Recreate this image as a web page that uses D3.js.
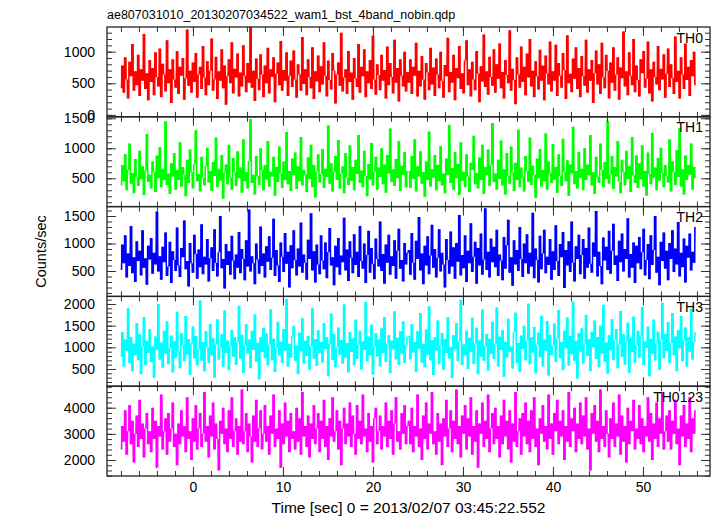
<!DOCTYPE html>
<html>
<head>
<meta charset="utf-8">
<script src="https://cdn.jsdelivr.net/npm/d3@7/dist/d3.min.js"></script>
<style>
  html, body { margin: 0; padding: 0; background: #fff; }
  svg { display: block; }
  text { font-family: "Liberation Sans", Arial, Helvetica, sans-serif; fill: #000; }
</style>
</head>
<body>
<svg id="chart" width="717" height="516"></svg>
<script>
// ---------------- data ----------------
const title = "ae807031010_20130207034522_wam1_bst_4band_nobin.qdp";
const xLabel = "Time [sec] 0 = 2013/02/07 03:45:22.552";
const yLabel = "Counts/sec";
const timeStart = -8;      // first bin time [s]
const binWidth = 0.16;     // bin width [s]
const xMajorTicks = [0, 10, 20, 30, 40, 50];

const bandNames = ["TH0", "TH1", "TH2", "TH3", "TH0123"];
const bandColors = ["#ff0000", "#00ff00", "#0000ff", "#00ffff", "#ff00ff"];
const yDomains = [[-30, 1390], [28, 1525], [38, 1671], [103, 2175], [1388, 4822]];
const yMajorTicks = [[0, 500, 1000], [500, 1000, 1500], [500, 1000, 1500], [500, 1000, 1500, 2000], [2000, 3000, 4000]];
const yMinorStep = [100, 100, 100, 100, 200];

const th0 = [
  420, 780, 350, 910, 560, 260, 840, 610, 1120, 380, 690, 470, 950, 300, 720, 540, 1280, 410, 660, 230,
  870, 520, 740, 310, 990, 600, 450, 1050, 280, 810, 640, 370, 1180, 500, 720, 190, 880, 560, 430, 1010,
  330, 760, 620, 900, 240, 580, 1350, 460, 700, 350, 830, 520, 980, 270, 640, 760, 410, 1090, 590, 310,
  850, 470, 700, 1210, 380, 560, 920, 250, 690, 540, 1040, 420, 780, 160, 610, 880, 500, 1150, 340, 730,
  590, 970, 290, 670, 450, 1100, 620, 360, 820, 510, 1390, 430, 700, 220, 890, 570, 390, 960, 640, 280,
  780, 500, 1060, 340, 720, 600, 910, 200, 650, 830, 470, 1170, 380, 710, 540, 990, 300, 620, 860, 440,
  1020, 560, 270, 800, 640, 380, 1230, 490, 720, 310, 880, 600, 420, 1070, 250, 690, 530, 940, 360, 770,
  480, 1150, 620, 290, 860, 550, 400, 980, 700, 180, 640, 830, 460, 1300, 370, 590, 720, 330, 1010, 520,
  670, 240, 900, 580, 440, 1120, 350, 760, 610, 1040, 280, 690, 500, 870, 410, 1250, 560, 320, 800, 630,
  390, 950, 540, 710, 260, 1080, 470, 820, 600, 340, 1190, 510, 740, 210, 880, 620, 450, 1000, 370, 680,
  510, 880, 330, 760, 620, 1140, 290, 700, 450, 930, 560, 240, 820, 670, 390, 1060, 480, 750, 300, 890,
  640, 420, 1000, 540, 270, 790, 610, 1220, 360, 680, 510, 950, 230, 740, 580, 1090, 410, 660, 340, 860,
  1180, 470, 720, 290, 840, 560, 390, 1010, 650, 200, 770, 530, 1270, 440, 690, 320, 920, 600, 460, 1040,
  350, 800, 570, 1130, 420, 680, 260, 870, 630, 500, 1340, 380, 730, 550, 170, 910, 640, 430, 1080, 520,
  760, 310, 970, 590, 1200, 450, 700, 280, 850, 610, 400, 1030, 540, 780, 230, 940, 660, 480, 1160, 370,
  690, 540, 1110, 300, 820, 620, 430, 980, 710, 250, 1260, 500, 650, 360, 890, 570, 1070, 410, 740, 280,
  930, 610, 460, 1190, 350, 720, 540, 870, 190, 660, 1020, 480, 800, 330, 1140, 590, 420, 950, 700, 260,
  830, 510, 1070, 380, 640, 910, 240, 750, 580, 1320, 450, 690, 310, 990, 620, 470, 1200, 360, 780, 550,
  290, 880, 660, 1010, 430, 570, 1160, 340, 720, 210, 840, 600, 480, 1090, 390, 730, 560, 960, 270, 650,
  1050, 440, 800, 580, 330, 1240, 520, 700, 260, 910, 640, 410, 1130, 550, 760, 300, 870, 610, 1000, 470
];
const th1 = [
  380, 720, 450, 900, 300, 640, 1080, 410, 590, 250, 820, 520, 370, 960, 480, 700, 220, 630, 1240, 440,
  560, 330, 780, 610, 270, 880, 500, 1020, 350, 660, 470, 1450, 390, 580, 240, 750, 530, 920, 310, 640,
  470, 1100, 360, 690, 550, 200, 810, 420, 980, 600, 330, 740, 1300, 450, 570, 280, 860, 510, 380, 700,
  1010, 430, 620, 290, 770, 540, 1180, 350, 660, 460, 890, 160, 590, 730, 400, 1060, 520, 310, 840, 610,
  370, 950, 500, 680, 260, 1150, 450, 600, 330, 790, 1490, 420, 560, 230, 870, 540, 390, 1000, 640, 300,
  720, 480, 1120, 360, 610, 530, 860, 210, 690, 440, 1030, 580, 340, 780, 470, 1270, 400, 620, 290, 830,
  550, 930, 320, 700, 450, 1190, 380, 640, 560, 270, 850, 490, 1060, 350, 720, 180, 610, 900, 430, 570,
  990, 340, 660, 520, 1380, 410, 750, 280, 600, 870, 470, 1140, 330, 580, 700, 250, 920, 510, 390, 1050,
  460, 690, 300, 810, 570, 1220, 420, 630, 350, 960, 540, 200, 740, 480, 1090, 380, 610, 860, 310, 680,
  520, 1000, 400, 730, 260, 890, 580, 1330, 440, 650, 370, 820, 500, 1120, 290, 710, 560, 940, 350, 620,
  620, 340, 870, 490, 1150, 280, 700, 530, 950, 410, 600, 190, 780, 470, 1280, 360, 650, 510, 890, 300,
  720, 450, 1040, 380, 580, 250, 830, 560, 1390, 420, 670, 310, 940, 500, 740, 220, 1100, 460, 610, 350,
  900, 530, 270, 760, 640, 1210, 400, 590, 330, 850, 470, 1060, 240, 690, 550, 980, 370, 720, 1420, 440,
  580, 310, 810, 490, 1130, 380, 650, 230, 920, 540, 410, 1030, 600, 290, 760, 470, 1310, 350, 680, 520,
  280, 870, 620, 440, 1180, 390, 710, 560, 170, 830, 500, 990, 360, 640, 450, 1250, 310, 780, 590, 420,
  1070, 480, 690, 260, 900, 540, 370, 1160, 610, 450, 800, 210, 730, 580, 1360, 400, 620, 330, 940, 510,
  660, 300, 1000, 470, 730, 550, 1220, 380, 600, 240, 860, 520, 420, 1080, 640, 350, 770, 490, 1460, 410,
  560, 870, 320, 690, 530, 1120, 440, 250, 810, 600, 380, 960, 490, 700, 270, 1190, 550, 420, 880, 340,
  750, 480, 1050, 360, 620, 210, 930, 570, 400, 1260, 510, 680, 300, 840, 460, 1010, 590, 350, 720, 540,
  430, 1150, 280, 780, 610, 390, 970, 520, 1340, 360, 650, 230, 880, 470, 720, 560, 1080, 310, 690, 500
];
const th2 = [
  520, 980, 640, 1150, 380, 820, 590, 1320, 460, 750, 300, 1040, 680, 870, 420, 1240, 560, 730, 250, 960,
  710, 1100, 450, 830, 620, 1580, 490, 770, 340, 940, 660, 1200, 410, 580, 1030, 280, 860, 700, 500, 1290,
  600, 390, 920, 750, 1420, 530, 680, 220, 1010, 640, 470, 1160, 810, 360, 890, 570, 1350, 440, 760, 620,
  1080, 310, 730, 930, 500, 1260, 650, 400, 840, 1500, 550, 720, 180, 990, 610, 860, 430, 1140, 690, 350,
  800, 560, 1210, 460, 900, 720, 330, 1060, 580, 1620, 490, 770, 640, 260, 1000, 710, 450, 1310, 590, 820,
  380, 950, 670, 1130, 520, 740, 1450, 410, 880, 600, 300, 1020, 760, 480, 1190, 630, 850, 200, 970, 550,
  1240, 700, 420, 910, 580, 1380, 470, 800, 650, 340, 1070, 720, 1550, 510, 860, 290, 980, 620, 440, 1150,
  690, 530, 1020, 370, 840, 1280, 600, 750, 240, 960, 570, 1100, 430, 780, 660, 1470, 510, 890, 320, 1040,
  740, 460, 1170, 610, 850, 390, 1320, 680, 540, 1000, 280, 790, 1230, 470, 920, 630, 350, 1090, 720, 580,
  1400, 500, 810, 270, 980, 650, 1160, 430, 770, 590, 1060, 360, 870, 1270, 540, 700, 310, 1010, 620, 830,
  880, 430, 1190, 650, 340, 1050, 720, 1480, 510, 820, 260, 960, 600, 1130, 440, 780, 1340, 560, 900, 380,
  740, 1260, 490, 830, 620, 200, 1080, 700, 450, 1220, 580, 930, 360, 1010, 670, 1520, 420, 790, 550, 1150,
  300, 870, 640, 1370, 480, 760, 1030, 270, 920, 600, 1180, 430, 710, 1640, 520, 850, 380, 1090, 660, 940,
  570, 1250, 410, 800, 690, 330, 1120, 540, 970, 1430, 470, 750, 230, 1060, 620, 880, 500, 1300, 720, 390,
  1000, 640, 1170, 450, 830, 580, 1560, 370, 910, 700, 290, 1140, 530, 820, 1250, 460, 760, 610, 1080, 340,
  860, 520, 1330, 680, 410, 990, 750, 1210, 190, 880, 600, 1040, 480, 1400, 650, 310, 950, 720, 1160, 440,
  790, 1080, 360, 920, 560, 1290, 630, 470, 1020, 760, 1590, 400, 850, 590, 260, 1110, 690, 940, 520, 1230,
  450, 870, 1360, 610, 780, 320, 1050, 660, 1180, 490, 900, 720, 1460, 380, 810, 560, 1020, 280, 960, 640,
  1120, 530, 840, 1270, 420, 700, 990, 350, 1150, 610, 880, 1500, 470, 760, 240, 1030, 680, 1200, 540, 870,
  330, 1010, 720, 1240, 480, 910, 620, 1390, 400, 830, 570, 1090, 290, 960, 740, 1180, 510, 850, 650, 1300
];
const th3 = [
  780, 1350, 560, 1180, 920, 1900, 640, 1240, 450, 1080, 820, 1560, 700, 1300, 380, 1010, 1700, 590, 1150, 870,
  1420, 660, 1020, 300, 1250, 940, 2000, 720, 1110, 530, 1380, 850, 1600, 610, 980, 1270, 420, 1140, 760, 1820,
  900, 520, 1330, 1050, 680, 1720, 830, 1190, 360, 1090, 1480, 740, 1260, 580, 950, 2080, 690, 1120, 450, 1370,
  1000, 640, 1540, 810, 1210, 300, 1070, 1650, 720, 980, 1300, 550, 1850, 870, 1160, 470, 1020, 1400, 780, 1240,
  600, 1110, 1960, 730, 1290, 410, 1050, 1530, 860, 1180, 520, 1380, 940, 1760, 670, 1100, 260, 1230, 890, 1450,
  750, 1320, 580, 1060, 1880, 700, 1200, 430, 990, 1590, 810, 1130, 640, 1420, 920, 2120, 560, 1080, 760, 1270,
  1500, 690, 1040, 380, 1340, 910, 1670, 620, 1150, 800, 1260, 480, 1030, 1900, 740, 1190, 570, 1400, 870, 1120,
  650, 1560, 960, 1230, 330, 1080, 1780, 710, 1310, 540, 1000, 1460, 830, 1170, 620, 1990, 760, 1100, 420, 1350,
  890, 1210, 580, 1640, 730, 1060, 1380, 490, 1140, 940, 2050, 680, 1250, 820, 1520, 370, 1020, 1330, 790, 1180,
  560, 1440, 870, 1700, 660, 1090, 1280, 400, 1160, 950, 1830, 720, 1220, 590, 1370, 850, 1600, 640, 1060, 1240,
  1260, 720, 1530, 880, 1120, 430, 1370, 960, 1790, 650, 1080, 540, 1410, 830, 1950, 700, 1170, 360, 1240, 920,
  1620, 610, 1040, 1330, 480, 1190, 870, 1700, 740, 1010, 290, 1280, 950, 1560, 680, 1140, 2100, 590, 1070, 810,
  1390, 500, 1220, 900, 1680, 620, 1090, 1450, 380, 1160, 780, 1870, 690, 1030, 1310, 460, 1200, 850, 1590, 730,
  1080, 1920, 560, 1250, 940, 1400, 320, 1130, 760, 1660, 890, 1020, 510, 1350, 1800, 640, 1100, 430, 1270, 960,
  1500, 700, 1150, 2010, 610, 1230, 880, 1470, 400, 1060, 1340, 770, 1730, 560, 1180, 920, 1610, 350, 1290, 820,
  1040, 1550, 660, 1210, 1860, 750, 1120, 470, 1390, 980, 1690, 580, 1260, 840, 2060, 690, 1150, 280, 1330, 900,
  1440, 620, 1070, 1750, 800, 1190, 450, 1360, 1000, 1620, 730, 1240, 540, 1500, 860, 1980, 670, 1110, 390, 1280,
  930, 1650, 710, 1170, 1420, 520, 1060, 1840, 780, 1300, 600, 1130, 1570, 410, 1220, 890, 1710, 640, 1050, 1380,
  760, 1270, 1930, 580, 1140, 990, 1480, 330, 1200, 860, 1640, 700, 1090, 1360, 480, 1180, 2030, 750, 1310, 920,
  1580, 640, 1100, 1790, 820, 1250, 450, 1400, 970, 1720, 680, 1160, 1460, 560, 1230, 900, 1890, 720, 1120, 1350
];
const th0123 = [
  2400, 3300, 2700, 3900, 2200, 3100, 4100, 2600, 3500, 1900, 3000, 3700, 2500, 4300, 2800, 3400, 2100, 3200, 3800, 2600,
  3100, 2300, 4000, 2800, 3500, 1700, 3300, 2900, 4500, 2400, 3100, 3600, 2200, 3800, 2700, 3200, 4200, 2500, 3000, 1800,
  3400, 2600, 3900, 2900, 3300, 2300, 4400, 2800, 3100, 2000, 3600, 2700, 4100, 2400, 3200, 3800, 2500, 3000, 4600, 2700,
  3300, 2100, 3700, 2900, 4200, 2400, 3400, 2800, 1600, 3500, 3000, 4000, 2600, 3200, 2300, 3900, 2800, 4400, 2500, 3100,
  3600, 2200, 3300, 2700, 4700, 2600, 3100, 3800, 2300, 3400, 2900, 1900, 3700, 2700, 4300, 2500, 3200, 3900, 2400, 3000,
  4100, 2700, 3300, 2200, 3700, 3000, 4500, 2500, 3200, 2800, 3900, 1700, 3400, 2600, 4200, 2900, 3500, 2300, 3800, 2800,
  3100, 2400, 4000, 2700, 3600, 2200, 4600, 2900, 3300, 2500, 3700, 2100, 3400, 2800, 4100, 2600, 3200, 3800, 2300, 3500,
  2800, 4300, 2500, 3300, 2000, 3600, 2900, 4400, 2700, 3100, 3900, 2400, 3500, 1800, 3200, 4000, 2600, 3400, 2900, 4200,
  2500, 3700, 3000, 2200, 4100, 2800, 3500, 2600, 4500, 2900, 3200, 2300, 3800, 2700, 3300, 1900, 3600, 4000, 2600, 3100,
  3700, 2400, 3300, 2900, 4200, 2500, 3500, 2800, 3900, 2200, 3400, 4400, 2700, 3100, 2400, 3800, 3000, 4100, 2600, 3300,
  3500, 2600, 4000, 2300, 3300, 2900, 4500, 2500, 3200, 2000, 3700, 2800, 4200, 2400, 3400, 3000, 4600, 2600, 3100, 2200,
  3800, 2700, 3400, 1800, 3600, 2900, 4300, 2500, 3200, 3900, 2300, 3500, 2800, 4700, 2600, 3300, 2100, 3700, 3000, 4100,
  2400, 3600, 2900, 4400, 2200, 3300, 2700, 3900, 1700, 3400, 3000, 4200, 2500, 3500, 2800, 4500, 2300, 3200, 3800, 2600,
  4000, 2800, 3300, 2100, 3700, 2600, 4300, 2900, 3500, 2400, 3900, 1900, 3400, 2700, 4600, 2500, 3100, 3600, 2200, 3800,
  2900, 4200, 2600, 3500, 2300, 3900, 2800, 4400, 2500, 3200, 1800, 3600, 3000, 4100, 2700, 3300, 2400, 4500, 2800, 3400,
  2200, 3800, 3100, 4300, 2600, 3500, 2900, 3900, 2000, 3300, 2700, 4600, 2500, 3600, 3100, 4000, 2300, 3400, 2800, 4200,
  2600, 3700, 2900, 4400, 2400, 3200, 1600, 3800, 3000, 4100, 2700, 3500, 2300, 4700, 2800, 3300, 2500, 3900, 3000, 2100,
  3600, 2800, 4200, 2500, 3400, 2900, 4500, 2200, 3700, 2700, 3300, 1900, 4000, 2600, 3500, 3100, 4300, 2400, 3200, 2800,
  4100, 2600, 3600, 2300, 3300, 2900, 4400, 2700, 3800, 2000, 3400, 2800, 4200, 2500, 3600, 3000, 4600, 2400, 3100, 3700,
  2700, 3900, 2400, 3500, 3000, 4300, 2600, 3200, 1800, 3700, 2900, 4100, 2500, 3400, 2800, 4400, 2300, 3600, 3000, 3900
];
const bandValues = [th0, th1, th2, th3, th0123];

// ---------------- layout ----------------
const svg = d3.select("#chart");
const plotL = 107, plotR = 710, plotT = 27, plotB = 476;
const nPanels = bandNames.length;
const panelH = (plotB - plotT) / nPanels;
const frameColor = "#222";

const x = d3.scaleLinear().domain([-9.55, 57.45]).range([plotL, plotR]);
const xMinorTicks = d3.range(-8, 57, 2);

svg.append("defs").selectAll("clipPath")
  .data(bandNames).join("clipPath")
  .attr("id", (d, i) => "clip" + i)
  .append("rect")
  .attr("x", plotL).attr("width", plotR - plotL)
  .attr("y", (d, i) => plotT + i * panelH).attr("height", panelH);

function styleAxis(g) {
  g.select(".domain").remove();
  g.selectAll(".tick line").attr("stroke", "#333").attr("stroke-width", 1);
  g.selectAll(".tick text").style("font-size", "14px").attr("fill", "#000")
    .style("font-family", '"Liberation Sans", Arial, sans-serif');
}

bandNames.forEach((name, i) => {
  const y0 = plotT + i * panelH, y1 = y0 + panelH;
  const y = d3.scaleLinear().domain(yDomains[i]).range([y1, y0]);
  const g = svg.append("g");
  const vals = bandValues[i];
  const t = k => timeStart + k * binWidth;

  // span swept by the light curve between consecutive bins (dense line look)
  const spans = d3.pairs(vals).map(([a, b], k) => ({ t: t(k), lo: Math.min(a, b), hi: Math.max(a, b) }));
  spans.push({ t: t(vals.length - 1), lo: vals[vals.length - 1], hi: vals[vals.length - 1] });
  const area = d3.area()
    .curve(d3.curveStepAfter)
    .x(s => x(s.t))
    .y0(s => y(s.lo))
    .y1(s => y(s.hi));
  g.append("path")
    .datum(spans)
    .attr("clip-path", `url(#clip${i})`)
    .attr("fill", bandColors[i])
    .attr("d", area);

  // the light curve itself
  const line = d3.line().x((d, k) => x(t(k))).y(d => y(d));
  g.append("path")
    .datum(vals)
    .attr("clip-path", `url(#clip${i})`)
    .attr("fill", "none")
    .attr("stroke", bandColors[i])
    .attr("stroke-opacity", 0.6)
    .attr("stroke-width", 0.8)
    .attr("d", line);

  // minor ticks
  const d = yDomains[i];
  const minor = d3.range(Math.ceil(d[0] / yMinorStep[i]) * yMinorStep[i], d[1], yMinorStep[i]);
  g.append("g").attr("transform", `translate(${plotL},0)`)
    .call(d3.axisLeft(y).tickValues(minor).tickSize(-5).tickFormat("")).call(styleAxis);
  g.append("g").attr("transform", `translate(${plotR},0)`)
    .call(d3.axisRight(y).tickValues(minor).tickSize(-5).tickFormat("")).call(styleAxis);
  // major ticks
  g.append("g").attr("transform", `translate(${plotL},0)`)
    .call(d3.axisLeft(y).tickValues(yMajorTicks[i]).tickSize(-9).tickPadding(12).tickFormat(d3.format("d")))
    .call(styleAxis);
  g.append("g").attr("transform", `translate(${plotR},0)`)
    .call(d3.axisRight(y).tickValues(yMajorTicks[i]).tickSize(-9).tickFormat(""))
    .call(styleAxis);

  // x ticks at top and bottom of the panel
  g.append("g").attr("transform", `translate(0,${y0})`)
    .call(d3.axisTop(x).tickValues(xMinorTicks).tickSize(-5).tickFormat("")).call(styleAxis);
  g.append("g").attr("transform", `translate(0,${y0})`)
    .call(d3.axisTop(x).tickValues(xMajorTicks).tickSize(-9).tickFormat("")).call(styleAxis);
  g.append("g").attr("transform", `translate(0,${y1})`)
    .call(d3.axisBottom(x).tickValues(xMinorTicks).tickSize(-5).tickFormat("")).call(styleAxis);
  const last = i === nPanels - 1;
  g.append("g").attr("transform", `translate(0,${y1})`)
    .call(d3.axisBottom(x).tickValues(xMajorTicks).tickSize(-9).tickPadding(last ? 6 : 0)
      .tickFormat(last ? d3.format("d") : ""))
    .call(styleAxis);

  // frame
  g.append("rect")
    .attr("x", plotL).attr("y", y0).attr("width", plotR - plotL).attr("height", panelH)
    .attr("fill", "none").attr("stroke", frameColor).attr("stroke-width", 1.3);

  // band label
  g.append("text")
    .attr("x", 703).attr("y", y0 + 15.5)
    .attr("text-anchor", "end")
    .style("font-size", "14px")
    .text(name);
});

// title
svg.append("text").attr("x", 107).attr("y", 19).style("font-size", "12.5px").text(title);
// x label
svg.append("text").attr("x", (plotL + plotR) / 2).attr("y", 513)
  .attr("text-anchor", "middle").style("font-size", "15.5px").text(xLabel);
// y label
svg.append("text")
  .attr("transform", `translate(46,${(plotT + plotB) / 2}) rotate(-90)`)
  .attr("text-anchor", "middle").style("font-size", "14.5px").text(yLabel);
</script>
</body>
</html>
